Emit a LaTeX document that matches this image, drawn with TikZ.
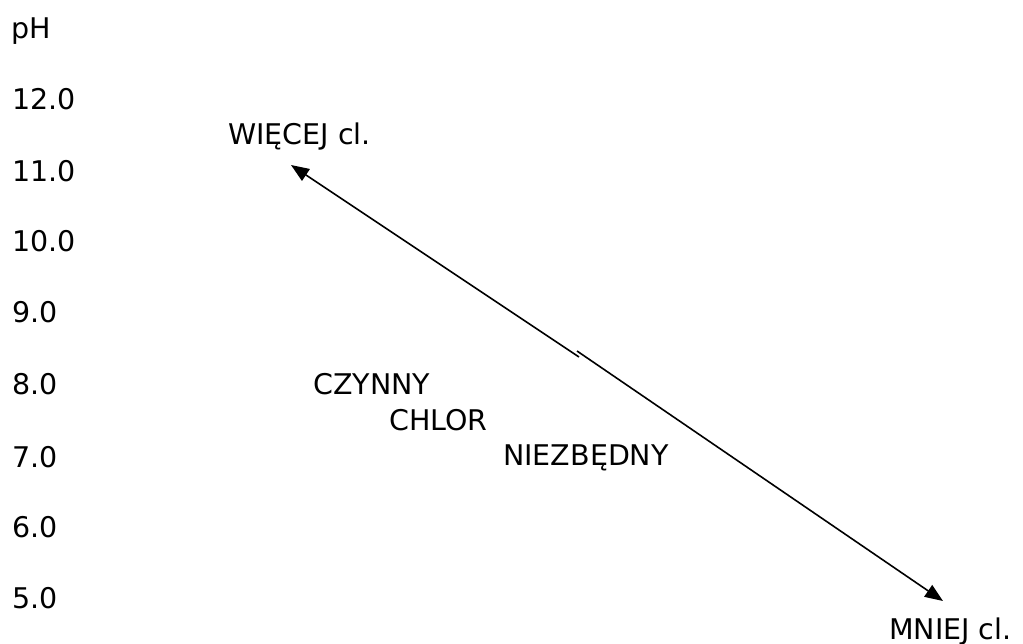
\documentclass[tikz,border=0pt]{standalone}
\usepackage{fontspec}
\setmainfont{DejaVu Sans}
\usetikzlibrary{arrows.meta}
\tikzset{
  lbl/.style={anchor=base west, inner sep=0pt, font=\fontsize{28.5}{32}\selectfont},
  arr/.style={line width=1.6pt, -{Triangle[length=18pt,width=14pt]}}
}
\begin{document}
\begin{tikzpicture}[x=1pt,y=-1pt]
  \useasboundingbox (0,0) rectangle (1023,644);
  % pH scale
  \node[lbl] (ph)  at (11,39)  {pH};
  \node[lbl] (p12) at (12,110) {12.0};
  \node[lbl] (p11) at (12,182) {11.0};
  \node[lbl] (p10) at (12,252) {10.0};
  \node[lbl] (p9)  at (12,323) {9.0};
  \node[lbl] (p8)  at (12,395) {8.0};
  \node[lbl] (p7)  at (12,467) {7.0};
  \node[lbl] (p6)  at (12,537) {6.0};
  \node[lbl] (p5)  at (12,608) {5.0};
  % labels
  \node[lbl] (more) at (228,145) {WIĘCEJ cl.};
  \node[lbl] (less) at (889,639) {MNIEJ cl.};
  \node[lbl] (t1) at (313,394) {CZYNNY};
  \node[lbl] (t2) at (389,430) {CHLOR};
  \node[lbl] (t3) at (503,465) {NIEZBĘDNY};
  % double arrow, drawn as two halves
  \coordinate (ma) at (579,357);
  \coordinate (mb) at (577,351);
  \coordinate (ta) at (291,165);
  \coordinate (tb) at (943,601);
  \draw[arr] (ma) -- (ta);
  \draw[arr] (mb) -- (tb);
\end{tikzpicture}
\end{document}
